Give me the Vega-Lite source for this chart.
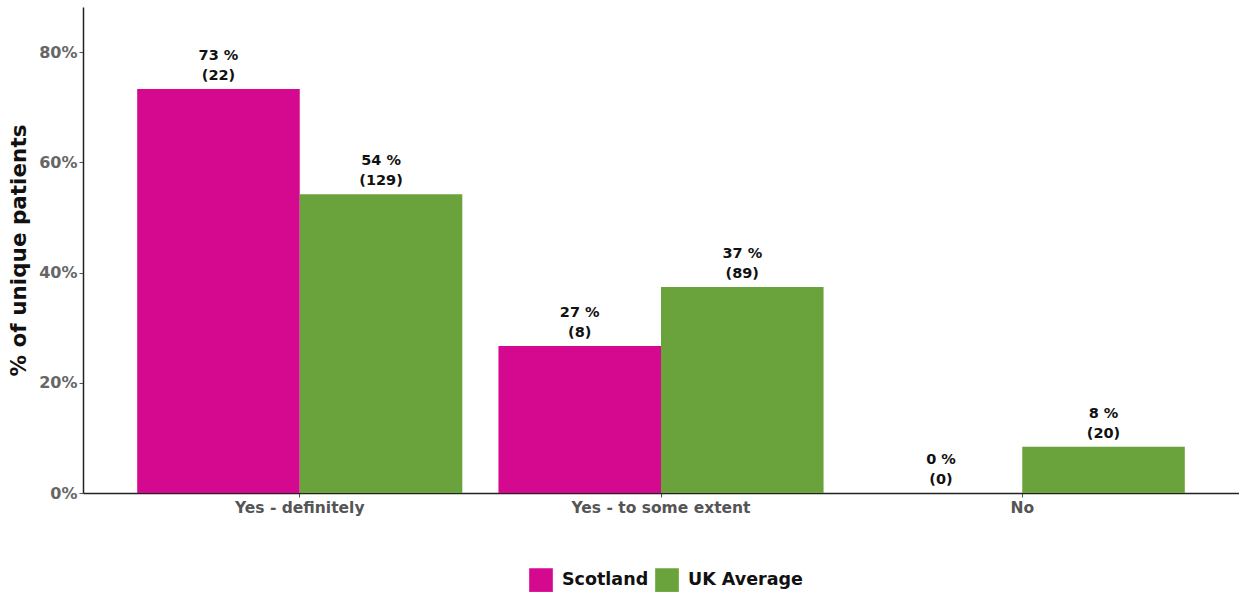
{
  "$schema": "https://vega.github.io/schema/vega-lite/v6.json",
  "width": 1156,
  "height": 486,
  "autosize": {"type": "none"},
  "padding": {"left": 83, "top": 7, "right": 0, "bottom": 99},
  "background": "white",
  "config": {
    "font": "DejaVu Sans",
    "view": {"stroke": null},
    "axis": {"grid": false}
  },
  "data": {
    "values": [
      {"answer": "Yes - definitely", "group": "Scotland", "pct": 0.7333, "label": "73 %\n (22)"},
      {"answer": "Yes - definitely", "group": "UK Average", "pct": 0.542, "label": "54 %\n (129)"},
      {"answer": "Yes - to some extent", "group": "Scotland", "pct": 0.2667, "label": "27 %\n (8)"},
      {"answer": "Yes - to some extent", "group": "UK Average", "pct": 0.374, "label": "37 %\n (89)"},
      {"answer": "No", "group": "Scotland", "pct": 0, "label": "0 %\n (0)"},
      {"answer": "No", "group": "UK Average", "pct": 0.084, "label": "8 %\n (20)"}
    ]
  },
  "encoding": {
    "x": {
      "field": "answer", "type": "nominal",
      "sort": ["Yes - definitely", "Yes - to some extent", "No"],
      "scale": {"paddingInner": 0.1, "paddingOuter": 0.15},
      "axis": {
        "title": null, "labelAngle": 0, "labelFont": "DejaVu Sans", "labelFontWeight": "bold",
        "labelFontSize": 15.5, "labelColor": "#555555", "labelPadding": 3,
        "domainColor": "#222222", "domainWidth": 1.5, "tickColor": "#555555", "tickSize": 4
      }
    },
    "xOffset": {
      "field": "group", "type": "nominal",
      "scale": {"paddingInner": 0, "paddingOuter": 0}
    },
    "y": {
      "field": "pct", "type": "quantitative",
      "scale": {"domain": [0, 0.882], "nice": false},
      "axis": {
        "title": "% of unique patients", "titleFontSize": 21.5, "titleFontWeight": "bold",
        "titleColor": "#111111", "titlePadding": 8,
        "values": [0, 0.2, 0.4, 0.6, 0.8], "format": ".0%",
        "labelFontWeight": "bold", "labelFontSize": 16, "labelColor": "#666666",
        "domainColor": "#222222", "domainWidth": 1.5, "tickColor": "#555555", "tickSize": 4
      }
    }
  },
  "layer": [
    {
      "mark": {"type": "bar"},
      "encoding": {
        "color": {
          "field": "group", "type": "nominal",
          "scale": {"domain": ["Scotland", "UK Average"], "range": ["#D4098F", "#6AA33B"]},
          "legend": {
            "title": null, "orient": "none", "direction": "horizontal",
            "legendX": 446, "legendY": 561,
            "symbolType": "square", "symbolSize": 560, "symbolStrokeWidth": 0, "symbolOpacity": 1,
            "labelFontSize": 17.5, "labelFontWeight": "bold", "labelColor": "#111111",
            "columnPadding": 6, "labelOffset": 9
          }
        }
      }
    },
    {
      "mark": {
        "type": "text", "lineBreak": "\n", "baseline": "bottom", "dy": -26,
        "fontSize": 14.5, "fontWeight": "bold", "color": "#111111", "lineHeight": 20
      },
      "encoding": {
        "text": {"field": "label"}
      }
    }
  ]
}
